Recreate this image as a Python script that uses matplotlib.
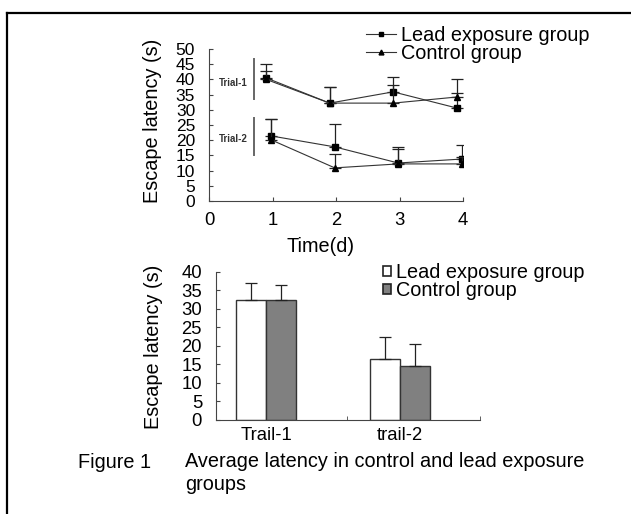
import matplotlib as mpl
mpl.use('Agg')
import matplotlib.pyplot as plt
from matplotlib.lines import Line2D
from matplotlib.patches import Patch

plt.rcParams['font.family'] = ['Liberation Sans', 'DejaVu Sans']

# top panel: escape latency by day (s), upper error only
days = [1, 2, 3, 4]
trial1_lead = [40.5, 32.2, 35.9, 30.6]
trial1_lead_err = [4.5, 5.4, 5.0, 9.5]
trial1_ctrl = [40.0, 32.2, 32.2, 34.2]
trial1_ctrl_err = [2.8, 5.4, 6.0, 1.4]
trial2_lead = [21.4, 17.8, 12.5, 13.8]
trial2_lead_err = [5.6, 7.5, 5.3, 4.5]
trial2_ctrl = [20.1, 10.9, 12.2, 12.2]
trial2_ctrl_err = [6.9, 4.5, 4.9, 2.4]

# bottom panel: mean latency per trial
trials = ['Trail-1', 'trail-2']
bar_lead = [32.4, 16.5]
bar_lead_err = [4.6, 5.9]
bar_ctrl = [32.4, 14.4]
bar_ctrl_err = [4.0, 6.0]

W, H = 631, 514
fig = plt.figure(figsize=(W / 100, H / 100), dpi=100)

spine_c = '#444444'
line_c = '#333333'
LBL = 14.3
TCK = 13.3

# ---------- top chart ----------
ax1 = fig.add_axes([209 / W, 1 - 201 / H, 254 / W, 152 / H])
t1x = [d - 0.1 for d in days]
t2x = [d - 0.02 for d in days]
ekw = dict(capsize=4, elinewidth=0.9, capthick=0.9, ecolor='#222222')
for xs, ys, es, mk in [(t1x, trial1_lead, trial1_lead_err, 's'),
                       (t1x, trial1_ctrl, trial1_ctrl_err, '^'),
                       (t2x, trial2_lead, trial2_lead_err, 's'),
                       (t2x, trial2_ctrl, trial2_ctrl_err, '^')]:
    ax1.errorbar(xs, ys, yerr=[[0] * len(es), es], fmt='none', **ekw)
    ax1.plot(xs, ys, color=line_c, lw=0.8, marker=mk, ms=5,
             mfc='black', mec='black')

# trial brackets
ax1.plot([0.715, 0.715], [33.5, 46.6], color='#666666', lw=1.4)
ax1.plot([0.715, 0.715], [15.1, 27.4], color='#666666', lw=1.4)
ax1.text(0.385, 38.9, 'Trial-1', fontsize=7, fontweight='bold',
         ha='center', va='center', color='#333333')
ax1.text(0.385, 20.3, 'Trial-2', fontsize=7, fontweight='bold',
         ha='center', va='center', color='#333333')

ax1.set_xlim(0, 4)
ax1.set_ylim(0, 50)
ax1.set_xticks([0, 1, 2, 3, 4])
ax1.set_yticks(range(0, 51, 5))
ax1.spines['top'].set_visible(False)
ax1.spines['right'].set_visible(False)
for s in ['left', 'bottom']:
    ax1.spines[s].set_color(spine_c)
ax1.tick_params(axis='both', direction='in', length=3, color=spine_c,
                labelsize=TCK)
ax1.tick_params(axis='y', pad=10, labelsize=12.5)
ax1.tick_params(axis='x', pad=8)
ax1.set_ylabel('Escape latency (s)', fontsize=LBL)
ax1.yaxis.set_label_coords(-0.185, 0.53)
ax1.set_xlabel('Time(d)', fontsize=LBL)
ax1.xaxis.set_label_coords(0.44, -0.235)

h1 = [Line2D([], [], color=line_c, lw=0.8, marker='s', ms=3.5, mfc='black', mec='black'),
      Line2D([], [], color=line_c, lw=0.8, marker='^', ms=3.5, mfc='black', mec='black')]
fig.legend(h1, ['Lead exposure group', 'Control group'],
           loc='upper left', bbox_to_anchor=(362 / W, 1 - 22 / H),
           frameon=False, fontsize=LBL, handlelength=1.5, handletextpad=0.25,
           labelspacing=-0.05, borderpad=0.2, borderaxespad=0)

# ---------- bottom chart ----------
ax2 = fig.add_axes([216 / W, 1 - 419.7 / H, 264 / W, 148 / H])
xs = list(range(len(trials)))
bw = 0.225
ax2.bar([x - bw / 2 for x in xs], bar_lead, width=bw, color='white',
        edgecolor='#333333', lw=1.0)
ax2.bar([x + bw / 2 for x in xs], bar_ctrl, width=bw, color='#808080',
        edgecolor='#333333', lw=1.0)
ax2.errorbar([x - bw / 2 for x in xs], bar_lead,
             yerr=[[0] * len(xs), bar_lead_err], fmt='none', **ekw)
ax2.errorbar([x + bw / 2 for x in xs], bar_ctrl,
             yerr=[[0] * len(xs), bar_ctrl_err], fmt='none', **ekw)

ax2.set_xlim(-0.378, 1.6)
ax2.set_ylim(0, 40)
ax2.set_yticks(range(0, 41, 5))
ax2.set_xticks(xs)
ax2.set_xticklabels(trials)
ax2.set_xticks([-0.378, 0.605, 1.6], minor=True)
ax2.spines['top'].set_visible(False)
ax2.spines['right'].set_visible(False)
for s in ['left', 'bottom']:
    ax2.spines[s].set_color(spine_c)
ax2.tick_params(axis='both', direction='in', length=3, color=spine_c,
                labelsize=TCK)
ax2.tick_params(axis='x', which='major', length=0, pad=5)
ax2.tick_params(axis='x', which='minor', direction='in', length=3, color=spine_c)
ax2.tick_params(axis='y', pad=10)
ax2.set_ylabel('Escape latency (s)', fontsize=LBL)
ax2.yaxis.set_label_coords(-0.2, 0.49)

h2 = [Patch(facecolor='white', edgecolor='#222222', lw=1.2),
      Patch(facecolor='#808080', edgecolor='#222222', lw=1.2)]
fig.legend(h2, ['Lead exposure group', 'Control group'],
           loc='upper left', bbox_to_anchor=(379 / W, 1 - 259 / H),
           frameon=False, fontsize=LBL, handlelength=0.38, handleheight=0.38,
           handletextpad=0.3, labelspacing=-0.05, borderpad=0.2, borderaxespad=0)

# caption
fig.text(78 / W, 1 - 463 / H, 'Figure 1', fontsize=LBL, va='center')
fig.text(185 / W, 1 - 452 / H,
         'Average latency in control and lead exposure\ngroups',
         fontsize=LBL, va='top', linespacing=1.25)

# frame (top and left edges visible)
fig.add_artist(Line2D([7 / W, 7 / W], [0, 1 - 13 / H], color='black', lw=1.6))
fig.add_artist(Line2D([7 / W, 1], [1 - 13 / H, 1 - 13 / H], color='black', lw=1.6))

fig.savefig('out.png', dpi=100)
